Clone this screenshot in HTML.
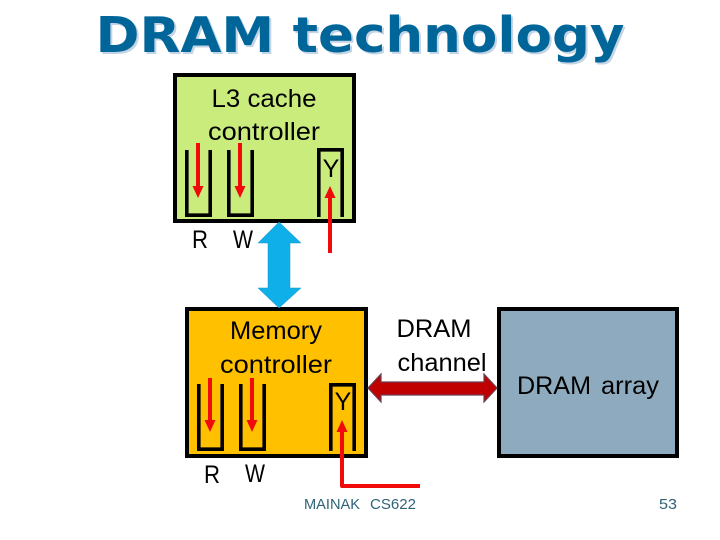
<!DOCTYPE html>
<html>
<head>
<meta charset="utf-8">
<style>
html,body{margin:0;padding:0;background:#fff;}
svg{display:block;}
text{font-family:"Liberation Sans",sans-serif;fill:#000;}
</style>
</head>
<body>
<svg width="720" height="540" viewBox="0 0 720 540" xmlns="http://www.w3.org/2000/svg">
<rect width="720" height="540" fill="#fff"/>
<text x="362" y="54" text-anchor="middle" style="font-family:'DejaVu Sans',sans-serif;font-weight:bold;font-size:49px;fill:#c3d4e4" textLength="529" lengthAdjust="spacingAndGlyphs">DRAM technology</text>
<text x="360" y="52" text-anchor="middle" style="font-family:'DejaVu Sans',sans-serif;font-weight:bold;font-size:49px;fill:#006699" textLength="529" lengthAdjust="spacingAndGlyphs">DRAM technology</text>

<rect x="175" y="75" width="179" height="146" fill="#c9ec7c" stroke="#000" stroke-width="4"/>
<rect x="187" y="309" width="179" height="147" fill="#ffc000" stroke="#000" stroke-width="4"/>
<rect x="499" y="309" width="178" height="147" fill="#8eaabf" stroke="#000" stroke-width="4"/>

<g fill="none" stroke="#000" stroke-width="3.6">
<path d="M186.8 150V215.2H210.2V150"/>
<path d="M228.8 150V215.2H252.2V150"/>
<path d="M318.8 217V149.8H342.2V217"/>
<path d="M198.8 384V449.2H222.2V384"/>
<path d="M240.8 384V449.2H264.2V384"/>
<path d="M330.8 451V384.8H354.2V451"/>
</g>

<polygon points="279,222 301,243 290,243 290,288 301,288 279,308 258,288 268,288 268,243 258,243" fill="#0fb0ea" stroke="#1a8fc4" stroke-width="0.5"/>
<polygon points="368,388 381,374 381,382 484,382 484,374 497,388 484,402 484,395 381,395 381,402" fill="#c00000" stroke="#6b3f55" stroke-width="1.2"/>

<g stroke="#f00a0a" stroke-width="4" fill="none">
<path d="M198 143V190"/>
<path d="M240 143V190"/>
<path d="M330 253V194"/>
<path d="M210 378V424"/>
<path d="M252 378V424"/>
<path d="M342 428V486H420" stroke-linejoin="round"/>
</g>
<g fill="#f00a0a">
<polygon points="192.500,186 203.500,186 198,198"/>
<polygon points="234.500,186 245.500,186 240,198"/>
<polygon points="324.500,198 335.500,198 330,186"/>
<polygon points="204.500,420 215.500,420 210,432"/>
<polygon points="246.500,420 257.500,420 252,432"/>
<polygon points="336.500,432 347.500,432 342,420"/>
</g>

<g font-size="25">
<text x="264" y="107" text-anchor="middle" textLength="105" lengthAdjust="spacingAndGlyphs">L3 cache</text>
<text x="264" y="140" text-anchor="middle" textLength="112" lengthAdjust="spacingAndGlyphs">controller</text>
<text x="331" y="177" text-anchor="middle">Y</text>
<text x="200" y="248" text-anchor="middle" textLength="16" lengthAdjust="spacingAndGlyphs">R</text>
<text x="243" y="248" text-anchor="middle" textLength="20" lengthAdjust="spacingAndGlyphs">W</text>
<text x="276" y="339" text-anchor="middle" textLength="92" lengthAdjust="spacingAndGlyphs">Memory</text>
<text x="276" y="373" text-anchor="middle" textLength="112" lengthAdjust="spacingAndGlyphs">controller</text>
<text x="343" y="410" text-anchor="middle">Y</text>
<text x="212" y="483" text-anchor="middle" textLength="16" lengthAdjust="spacingAndGlyphs">R</text>
<text x="255" y="482" text-anchor="middle" textLength="20" lengthAdjust="spacingAndGlyphs">W</text>
<text x="434" y="337" text-anchor="middle" textLength="75" lengthAdjust="spacingAndGlyphs">DRAM</text>
<text x="442" y="371" text-anchor="middle" textLength="89" lengthAdjust="spacingAndGlyphs">channel</text>
<text x="554" y="394" text-anchor="middle" textLength="74" lengthAdjust="spacingAndGlyphs">DRAM</text>
<text x="630" y="394" text-anchor="middle" textLength="58" lengthAdjust="spacingAndGlyphs">array</text>
</g>

<g font-size="15">
<text x="304" y="509" style="fill:#2f6276" textLength="56" lengthAdjust="spacingAndGlyphs">MAINAK</text>
<text x="370" y="509" style="fill:#2f6276" textLength="46" lengthAdjust="spacingAndGlyphs">CS622</text>
<text x="659" y="509" style="fill:#2f6276" textLength="18" lengthAdjust="spacingAndGlyphs">53</text>
</g>
</svg>
</body>
</html>
